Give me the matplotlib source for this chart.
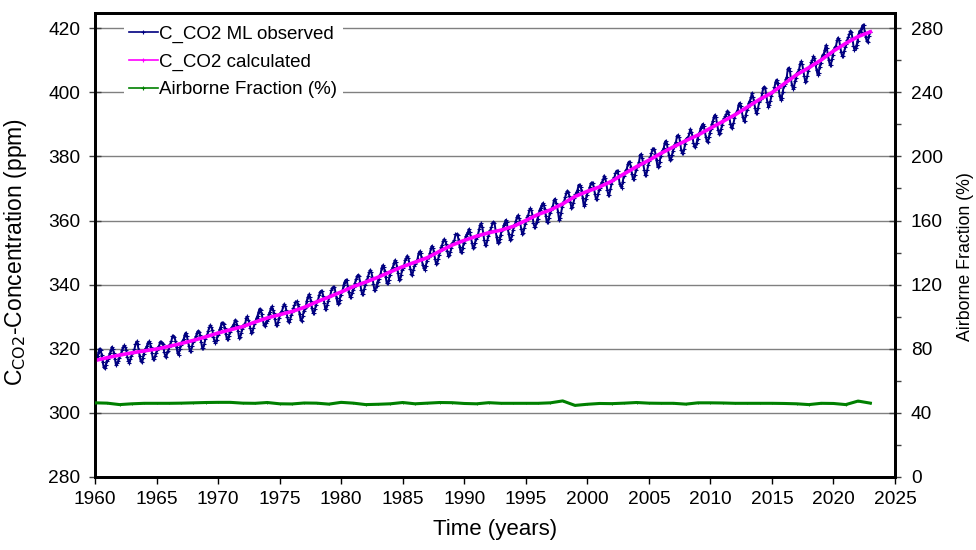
import numpy as np
import matplotlib
matplotlib.use("Agg")
import matplotlib.pyplot as plt
from matplotlib.ticker import MultipleLocator
from matplotlib.lines import Line2D

plt.rcParams['font.family'] = ['Liberation Sans', 'DejaVu Sans']

# Mauna Loa monthly CO2 (ppm), Jan..Dec for each year
obs_years = list(range(1960, 2023))
obs_monthly = [
    [316.43, 316.97, 317.58, 319.02, 320.03, 319.59, 318.18, 315.91, 314.16, 313.83, 315.00, 316.19],
    [316.89, 317.70, 318.54, 319.48, 320.58, 319.77, 318.57, 316.79, 314.80, 315.38, 316.10, 317.01],
    [317.94, 318.55, 319.68, 320.57, 321.02, 320.62, 319.61, 317.40, 316.25, 315.42, 316.69, 317.70],
    [318.74, 319.07, 319.86, 321.38, 322.25, 321.48, 319.74, 317.77, 316.21, 315.99, 317.07, 318.35],
    [319.57, 320.10, 320.74, 321.84, 322.26, 321.89, 320.44, 318.69, 316.70, 316.87, 317.68, 318.71],
    [319.44, 320.44, 320.89, 322.13, 322.16, 321.87, 321.39, 318.81, 317.81, 317.30, 318.87, 319.42],
    [320.62, 321.59, 322.39, 323.87, 324.01, 323.75, 322.39, 320.37, 318.64, 318.10, 319.79, 321.08],
    [322.07, 322.50, 323.04, 324.42, 325.00, 324.09, 322.54, 320.92, 319.25, 319.39, 320.73, 321.96],
    [322.57, 323.15, 323.89, 325.02, 325.57, 325.36, 324.14, 322.11, 320.33, 320.25, 321.32, 322.89],
    [324.00, 324.42, 325.63, 326.66, 327.38, 326.70, 325.89, 323.67, 322.38, 321.78, 322.85, 324.12],
    [325.03, 325.99, 326.87, 328.13, 328.07, 327.66, 326.35, 324.69, 323.10, 323.16, 323.98, 325.13],
    [326.17, 326.68, 327.18, 327.78, 328.92, 328.57, 327.34, 325.46, 323.36, 323.57, 324.80, 326.01],
    [326.77, 327.63, 327.75, 329.72, 330.07, 329.09, 328.04, 326.32, 324.84, 325.20, 326.50, 327.55],
    [328.55, 329.56, 330.30, 331.50, 332.48, 332.07, 330.87, 329.31, 327.51, 327.18, 328.16, 328.64],
    [329.35, 330.71, 331.48, 332.65, 333.19, 332.20, 331.07, 329.15, 327.33, 327.28, 328.31, 329.58],
    [330.73, 331.46, 331.90, 333.17, 333.94, 333.45, 331.97, 329.95, 328.50, 328.34, 329.37, 330.58],
    [331.59, 332.75, 333.52, 334.64, 334.77, 334.00, 333.06, 330.68, 328.95, 328.75, 330.15, 331.62],
    [332.66, 333.13, 334.95, 336.13, 336.93, 336.17, 334.88, 332.56, 331.29, 331.27, 332.41, 333.60],
    [334.95, 335.25, 336.66, 337.69, 338.03, 338.01, 336.41, 334.41, 332.37, 332.41, 333.75, 334.90],
    [336.14, 336.69, 338.27, 338.96, 339.21, 339.26, 337.54, 335.75, 333.98, 334.19, 335.31, 336.81],
    [337.90, 338.34, 340.01, 340.93, 341.48, 341.33, 339.40, 337.70, 336.19, 336.15, 337.27, 338.32],
    [339.29, 340.55, 341.61, 342.53, 343.03, 342.54, 340.78, 338.44, 336.95, 337.08, 338.58, 339.88],
    [340.96, 341.73, 342.81, 343.97, 344.63, 343.79, 342.32, 340.09, 338.28, 338.29, 339.60, 340.90],
    [341.68, 342.90, 343.33, 345.25, 346.03, 345.63, 344.19, 342.27, 340.35, 340.38, 341.59, 343.05],
    [344.10, 344.79, 345.52, 346.84, 347.63, 346.97, 345.53, 343.55, 341.40, 341.67, 343.10, 344.70],
    [345.21, 346.16, 347.74, 348.34, 349.06, 348.38, 346.72, 345.02, 343.27, 343.13, 344.49, 345.88],
    [346.56, 347.28, 348.01, 349.77, 350.38, 349.93, 348.16, 346.08, 345.22, 344.51, 345.93, 347.22],
    [348.52, 348.73, 349.73, 351.31, 352.09, 351.53, 350.11, 348.08, 346.52, 346.59, 347.96, 349.16],
    [350.39, 351.64, 352.41, 353.69, 354.21, 353.72, 352.69, 350.40, 348.92, 349.13, 350.20, 351.41],
    [352.91, 353.27, 353.96, 355.64, 355.86, 355.37, 353.99, 351.81, 350.05, 350.25, 351.49, 352.85],
    [353.80, 355.04, 355.73, 356.32, 357.32, 356.34, 354.84, 353.01, 351.31, 351.62, 353.07, 354.33],
    [354.84, 355.73, 357.23, 358.66, 359.13, 358.13, 356.19, 353.85, 352.25, 352.35, 353.81, 355.12],
    [356.25, 357.11, 357.86, 359.09, 359.59, 359.33, 357.01, 354.94, 352.95, 353.32, 354.32, 355.57],
    [357.00, 357.31, 358.47, 359.27, 360.19, 359.52, 357.33, 355.64, 354.03, 354.12, 355.41, 356.91],
    [358.24, 358.92, 359.99, 361.23, 361.65, 360.81, 359.38, 357.46, 355.73, 356.08, 357.53, 358.98],
    [359.92, 361.21, 361.77, 363.23, 363.77, 363.22, 361.70, 359.11, 358.11, 357.97, 359.40, 360.61],
    [362.05, 363.25, 364.03, 364.72, 365.41, 364.97, 363.65, 361.49, 359.46, 359.60, 360.76, 362.33],
    [363.18, 364.00, 364.57, 366.35, 366.79, 365.62, 364.47, 362.51, 360.19, 360.77, 362.43, 364.28],
    [365.32, 366.15, 367.31, 368.61, 369.30, 368.87, 367.64, 365.77, 363.90, 364.23, 365.46, 366.97],
    [368.15, 368.87, 369.59, 371.14, 371.00, 370.35, 369.27, 366.93, 364.64, 365.13, 366.68, 368.00],
    [369.14, 369.46, 370.52, 371.66, 371.82, 371.70, 370.12, 368.12, 366.62, 366.73, 368.29, 369.53],
    [370.28, 371.50, 372.12, 372.87, 374.02, 373.30, 371.62, 369.55, 367.96, 368.09, 369.68, 371.24],
    [372.44, 373.08, 373.52, 374.85, 375.55, 375.40, 374.02, 371.49, 370.71, 370.25, 372.08, 373.78],
    [374.68, 375.62, 376.11, 377.65, 378.35, 378.13, 376.62, 374.50, 372.99, 373.01, 374.35, 375.70],
    [376.79, 377.37, 378.41, 380.52, 380.63, 379.57, 377.79, 375.86, 374.06, 374.24, 375.86, 377.48],
    [378.47, 379.76, 381.14, 382.20, 382.47, 382.20, 380.78, 378.73, 376.66, 376.98, 378.29, 380.07],
    [381.36, 381.98, 382.53, 384.33, 384.89, 383.99, 382.23, 380.44, 378.77, 379.05, 380.38, 381.78],
    [382.89, 383.90, 384.58, 386.50, 386.56, 386.10, 384.50, 381.99, 380.96, 381.12, 382.45, 383.95],
    [385.52, 385.82, 386.03, 387.21, 388.54, 387.76, 386.36, 384.09, 383.18, 382.99, 384.19, 385.56],
    [386.94, 387.48, 388.82, 389.55, 390.14, 389.48, 388.03, 386.11, 384.74, 384.43, 386.02, 387.42],
    [388.71, 390.20, 391.17, 392.46, 393.00, 392.15, 390.20, 388.35, 386.85, 387.24, 388.67, 389.79],
    [391.33, 391.86, 392.60, 393.25, 394.19, 393.74, 392.51, 390.13, 389.08, 389.00, 390.28, 391.86],
    [393.12, 393.86, 394.40, 396.18, 396.74, 395.71, 394.36, 392.39, 391.11, 391.05, 392.98, 394.34],
    [395.55, 396.80, 397.43, 398.41, 399.78, 398.60, 397.32, 395.20, 393.45, 393.70, 395.16, 396.84],
    [397.85, 398.01, 399.77, 401.38, 401.78, 401.25, 399.10, 397.03, 395.38, 396.03, 397.28, 398.91],
    [399.98, 400.28, 401.54, 403.28, 403.96, 402.80, 401.31, 398.93, 397.63, 398.29, 400.16, 401.85],
    [402.52, 404.04, 404.83, 407.42, 407.70, 406.81, 404.39, 402.25, 401.03, 401.57, 403.53, 404.42],
    [406.13, 406.42, 407.18, 409.00, 409.65, 408.84, 407.07, 405.07, 403.38, 403.64, 405.14, 406.81],
    [407.96, 408.32, 409.41, 410.24, 411.24, 410.79, 408.71, 406.99, 405.51, 405.95, 408.02, 409.07],
    [410.83, 411.75, 411.97, 413.32, 414.66, 413.92, 411.77, 409.95, 408.54, 408.53, 410.27, 411.76],
    [413.40, 414.11, 414.51, 416.21, 417.07, 416.39, 414.38, 412.55, 411.29, 411.28, 412.89, 414.02],
    [415.15, 416.47, 417.16, 418.24, 419.13, 418.94, 416.96, 414.47, 413.30, 413.93, 414.74, 416.12],
    [418.19, 419.28, 418.81, 420.23, 420.99, 420.99, 418.90, 417.19, 415.95, 415.78, 417.51, 418.95],
]

# Calculated CO2 concentration (ppm), start of each year
calc_years = list(range(1960, 2024))
calc_co2 = [
    316.3, 317.2, 318.0, 318.7, 319.3, 319.9, 320.7, 321.6, 322.6, 323.7,
    324.9, 325.9, 326.9, 328.3, 329.6, 330.6, 331.6, 332.9, 334.6, 336.1,
    337.7, 339.4, 340.8, 342.3, 344.0, 345.6, 347.0, 348.4, 350.4, 352.3,
    353.8, 355.1, 356.2, 357.0, 358.2, 360.0, 361.9, 363.3, 365.2, 367.5,
    369.1, 370.5, 372.3, 374.6, 376.8, 378.8, 381.0, 383.0, 384.9, 386.7,
    388.8, 390.9, 393.0, 395.4, 397.8, 399.9, 402.7, 405.5, 407.7, 410.1,
    412.9, 415.3, 417.4, 418.9,
]

# Airborne fraction (%)
af_years = list(range(1960, 2024))
airborne_fraction = [
    46.2, 46.0, 45.1, 45.6, 45.9, 45.9, 45.9, 46.0, 46.2, 46.4,
    46.5, 46.5, 46.0, 45.9, 46.4, 45.6, 45.5, 46.1, 46.0, 45.4,
    46.5, 46.0, 45.1, 45.3, 45.6, 46.4, 45.6, 46.0, 46.4, 46.3,
    45.8, 45.6, 46.3, 45.9, 45.9, 45.9, 45.9, 46.2, 47.4, 44.6,
    45.3, 45.8, 45.7, 46.0, 46.4, 46.0, 45.9, 45.9, 45.4, 46.2,
    46.2, 46.1, 45.9, 45.9, 45.9, 45.9, 45.8, 45.6, 45.1, 45.9,
    45.8, 45.1, 47.3, 46.0,
]

obs_t = np.array([y + (m + 0.5) / 12.0 for y in obs_years for m in range(12)])
obs_v = np.array(obs_monthly).ravel()

NAVY, MAGENTA, GREEN = '#000080', '#FF00FF', '#008000'

fig = plt.figure(figsize=(9.76, 5.50), dpi=100)
ax = fig.add_axes([0.0973, 0.133, 0.8197, 0.843])
ax2 = ax.twinx()

ax.set_xlim(1960, 2025)
ax.set_ylim(280, 424.7)
ax2.set_ylim(0, 289.4)

ax.grid(True, axis='y', color='#808080', linewidth=1.0)
ax.set_axisbelow(True)

ax.plot(obs_t, obs_v, color=NAVY, linewidth=1.4, marker='+',
        markersize=3, markeredgewidth=0.8, zorder=3)
ax.plot(calc_years, calc_co2, color=MAGENTA, linewidth=2.6, marker='+',
        markersize=2, markeredgewidth=0.6, zorder=4)
ax2.plot(af_years, airborne_fraction, color=GREEN, linewidth=2.2,
         marker='+', markersize=2, markeredgewidth=0.6, zorder=3)

ax.xaxis.set_major_locator(MultipleLocator(5))
ax.yaxis.set_major_locator(MultipleLocator(20))
ax2.yaxis.set_major_locator(MultipleLocator(40))
ax2.yaxis.set_minor_locator(MultipleLocator(20))

TICK_FS = 13.8
ax.tick_params(axis='x', direction='out', length=5, width=1, pad=5, labelsize=TICK_FS)
ax.tick_params(axis='y', direction='inout', length=9, width=1, pad=6, labelsize=TICK_FS,
               color='#404040')
ax2.tick_params(axis='y', which='major', direction='inout', length=9, width=1,
                pad=7, labelsize=TICK_FS, color='#404040')
ax2.tick_params(axis='y', which='minor', direction='out', length=4, width=1,
                color='#404040')

for a in (ax, ax2):
    for s in a.spines.values():
        s.set_linewidth(2.0)
        s.set_color('black')

ax.set_xlabel('Time (years)', fontsize=16, labelpad=8)
ax.set_ylabel(r'C$_{\mathrm{CO2}}$-Concentration (ppm)', fontsize=16.5, labelpad=5)
ax.yaxis.set_label_coords(-0.0825, 0.485)
ax2.set_ylabel('Airborne Fraction (%)', fontsize=12.8, labelpad=12)
ax2.yaxis.set_label_coords(1.0775, 0.475)

# Legend with thin proxy handles and a single marker per entry
proxies = [
    Line2D([], [], color=NAVY, linewidth=1.2, marker='+', markersize=3, markeredgewidth=0.8),
    Line2D([], [], color=MAGENTA, linewidth=1.2, marker='+', markersize=3, markeredgewidth=0.8),
    Line2D([], [], color=GREEN, linewidth=1.2, marker='+', markersize=3, markeredgewidth=0.8),
]
labels = ['C_CO2 ML observed', 'C_CO2 calculated', 'Airborne Fraction (%)']
leg = ax.legend(proxies, labels, loc='upper left', bbox_to_anchor=(0.036, 0.985),
                borderaxespad=0.0, numpoints=1, frameon=True, fontsize=13.5,
                handlelength=1.5, handletextpad=0.1, labelspacing=0.55,
                borderpad=0.3, fancybox=False)
leg.get_frame().set_edgecolor('none')
leg.get_frame().set_facecolor('white')
leg.get_frame().set_alpha(1.0)
leg.set_zorder(10)

fig.savefig('out.png', dpi=100)
